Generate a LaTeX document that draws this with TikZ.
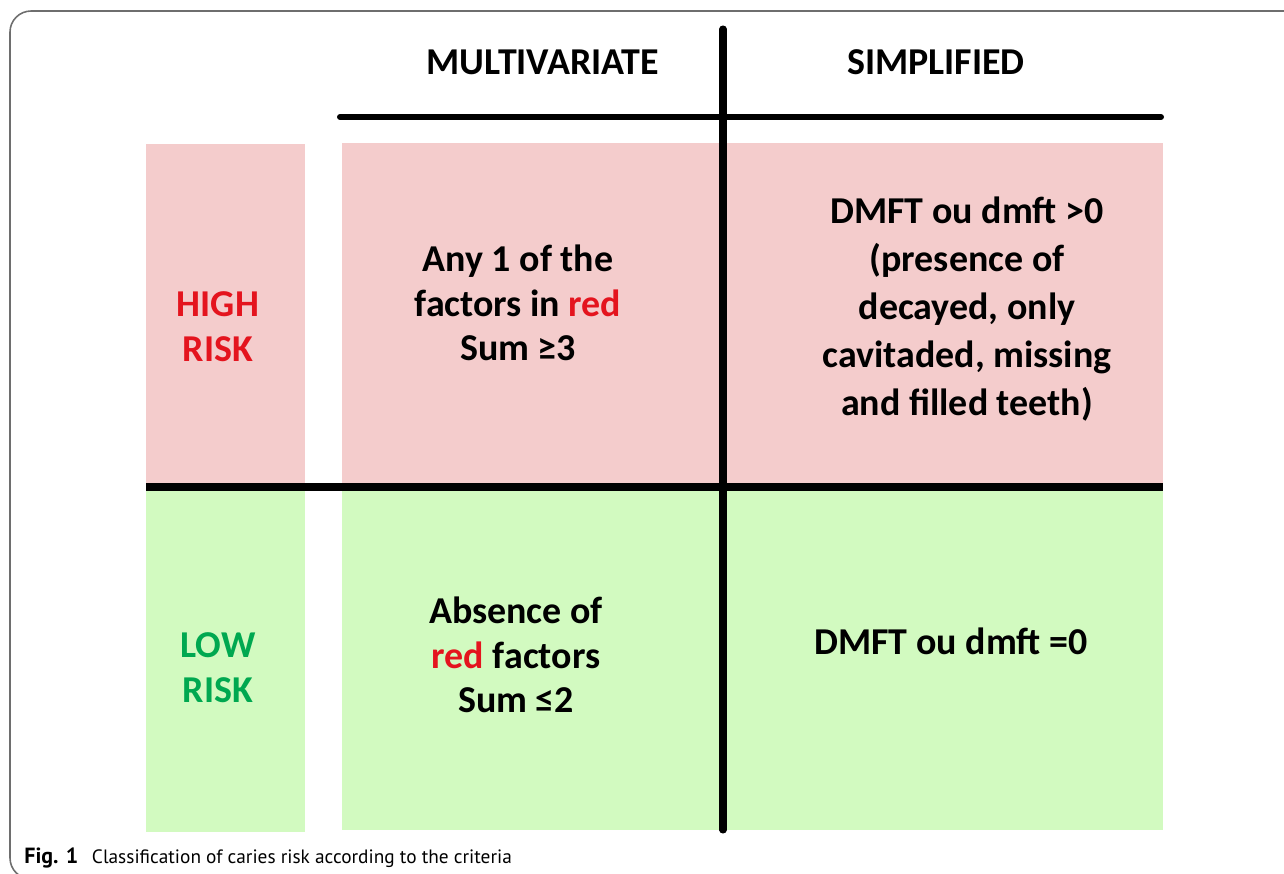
\documentclass[tikz,border=0pt]{standalone}
\usepackage{fontspec}
\setmainfont{Carlito}
\newfontfamily\captionfont{PT Sans}
\definecolor{HighColor}{RGB}{244,204,204}
\definecolor{LowColor}{RGB}{210,250,192}
\definecolor{RiskRed}{RGB}{228,20,30}
\definecolor{RiskGreen}{RGB}{0,168,80}
\definecolor{FrameColor}{RGB}{110,110,110}
\usetikzlibrary{positioning}
\tikzstyle{cell} = [align=center, font=\fontsize{21.6}{25.5}\selectfont\bfseries]
\tikzstyle{tallcell} = [align=center, font=\fontsize{21.6}{27.2}\selectfont\bfseries]
\tikzstyle{gridline} = [line width=4pt, black]

\begin{document}
\begin{tikzpicture}[x=0.02cm, y=-0.02cm]
            \clip (0,0) rectangle (1284,873);
            % outer frame
            \draw[FrameColor, line width=0.9pt, rounded corners=12] (1300,11) -- (10,11) -- (10,879) -- (1300,879);

            % High risk row
            \fill[HighColor] (146,144) rectangle (305,484);
            \fill[HighColor] (342,143) rectangle (720,484);
            \fill[HighColor] (727,143) rectangle (1163,484);

            % Low risk row
            \fill[LowColor] (146,490) rectangle (305,832);
            \fill[LowColor] (342,490) rectangle (720,830);
            \fill[LowColor] (727,490) rectangle (1163,830);

            % Grid lines
            \draw[gridline, line cap=round, line width=3.4pt] (340,117) -- (1161,117);
            \draw[gridline, line cap=round] (723,29) -- (723,830);
            \draw[gridline] (146,487) -- (1163,487);

            % Column headers
            \node[cell] (multi) at (543,62) {MULTIVARIATE};
            \node[cell] (simpl) at (936,62) {SIMPLIFIED};

            % Row labels
            \node[cell, text=RiskRed] (high) at (218,327) {HIGH\\RISK};
            \node[cell, text=RiskGreen] (low) at (218,668) {LOW\\RISK};

            % Cells
            \node[cell] (anyone) at (518,303) {Any 1 of the\\factors in \textcolor{RiskRed}{red}\\Sum ≥3};
            \node[tallcell] (dmftpos) at (967,309) {DMFT ou dmft >0\\(presence of\\decayed, only\\cavitaded, missing\\and filled teeth)};
            \node[cell] (absence) at (516,655) {Absence of\\\textcolor{RiskRed}{red} factors\\Sum ≤2};
            \node[cell] (dmftzero) at (951,641) {DMFT ou dmft =0};

            % Caption
            \node[anchor=west, inner sep=0pt, font=\captionfont\fontsize{11}{13}\selectfont] (caption) at (24,858) {{\fontsize{12.5}{13}\selectfont\textbf{Fig. 1}}\hspace{0.7em}Classification of caries risk according to the criteria};
        \end{tikzpicture}
\end{document}
